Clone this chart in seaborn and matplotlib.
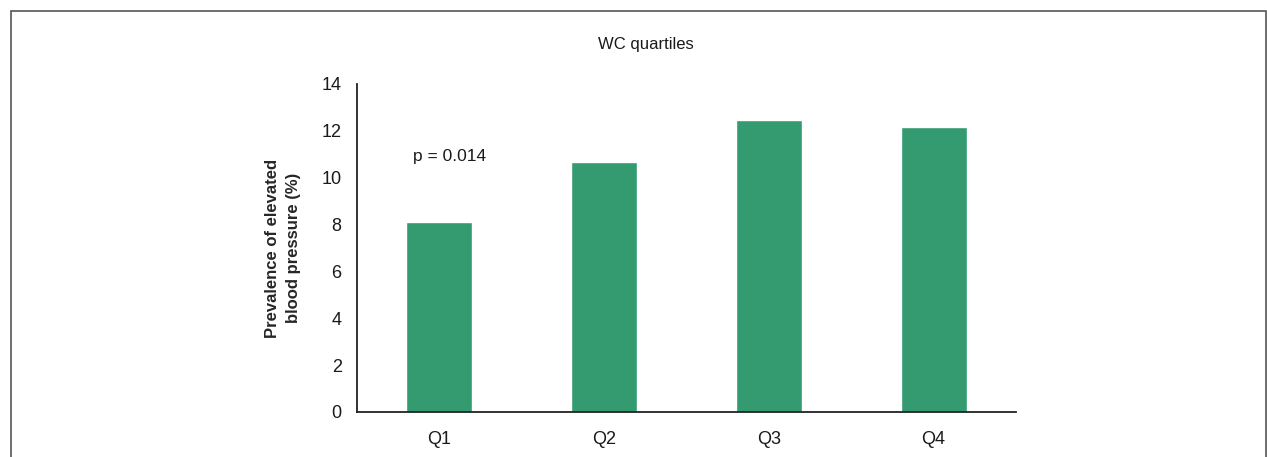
import matplotlib
matplotlib.use("Agg")
import matplotlib.pyplot as plt
import matplotlib.patches as mpatches
import seaborn as sns
import pandas as pd

# values
quartiles = ["Q1", "Q2", "Q3", "Q4"]
prevalence = [8.1, 10.65, 12.45, 12.15]
y_ticks = [0, 2, 4, 6, 8, 10, 12, 14]

df = pd.DataFrame({"quartile": quartiles, "prevalence": prevalence})

sns.set_style("white")
plt.rcParams["font.family"] = ["Liberation Sans Narrow", "Liberation Sans", "DejaVu Sans"]

fig = plt.figure(figsize=(12.67, 4.57), dpi=100)
ax = fig.add_axes([357 / 1267, 45 / 457, 659 / 1267, 328 / 457])

sns.barplot(data=df, x="quartile", y="prevalence", color="#339b6f",
            width=0.4, saturation=1, ax=ax)

ax.set_xlim(-0.5, 3.5)
ax.set_ylim(0, 14)
ax.set_yticks(y_ticks)
ax.set_xlabel("")
ax.set_ylabel("Prevalence of elevated\nblood pressure (%)", fontsize=12,
              fontweight="bold", labelpad=15, linespacing=1.45)
ax.tick_params(axis="both", length=0, labelsize=13, colors="#1a1a1a")
ax.tick_params(axis="y", pad=11)
ax.tick_params(axis="x", pad=14)

for side in ["top", "right"]:
    ax.spines[side].set_visible(False)
for side in ["left", "bottom"]:
    ax.spines[side].set_color("#222222")
    ax.spines[side].set_linewidth(1.3)

ax.text(0.06, 10.9, "p = 0.014", ha="center", va="center", fontsize=12.5, color="#1a1a1a")

fig.text(646 / 1267, 1 - 44 / 457, "WC quartiles", ha="center", va="center",
         fontsize=12, color="#1a1a1a")

# outer frame around the figure
frame = mpatches.Rectangle((11 / 1267, -0.1), 1255 / 1267, 1.1 - 11 / 457,
                           transform=fig.transFigure, fill=False,
                           edgecolor="#555555", linewidth=1.2, clip_on=False)
fig.patches.append(frame)

fig.savefig("out.png", dpi=100)
